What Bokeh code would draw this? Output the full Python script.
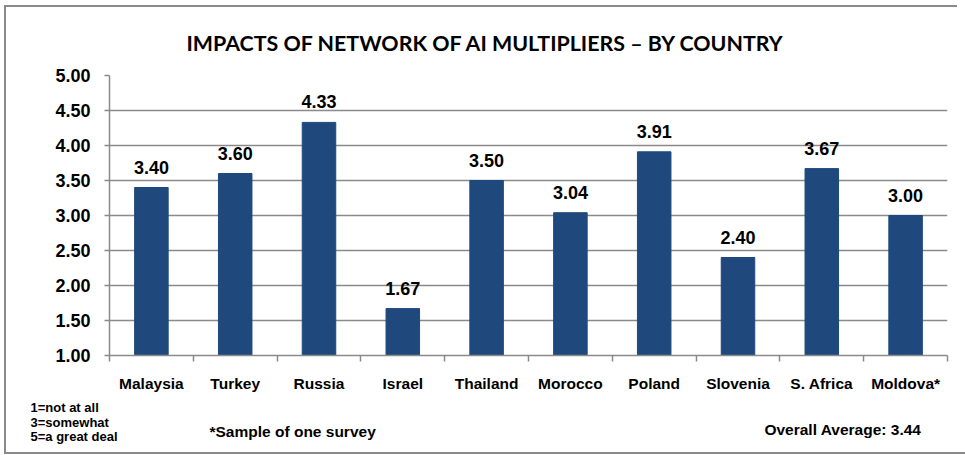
from bokeh.plotting import figure
from bokeh.layouts import column
from bokeh.models import (Range1d, FixedTicker, NumeralTickFormatter, CustomJSTickFormatter,
                          ColumnDataSource, LabelSet, Plot)
from bokeh.core.properties import value
from bokeh.embed import file_html
from bokeh.resources import INLINE

# ---- data ----
countries = ["Malaysia", "Turkey", "Russia", "Israel", "Thailand",
             "Morocco", "Poland", "Slovenia", "S. Africa", "Moldova*"]
scores = [3.40, 3.60, 4.33, 1.67, 3.50, 3.04, 3.91, 2.40, 3.67, 3.00]
y_ticks = [1.0, 1.5, 2.0, 2.5, 3.0, 3.5, 4.0, 4.5, 5.0]
title_text = "IMPACTS OF NETWORK OF AI MULTIPLIERS \u2013 BY COUNTRY"
scale_notes = ["1=not at all", "3=somewhat", "5=a great deal"]
sample_note = "*Sample of one survey"
average_note = "Overall Average: 3.44"

n = len(countries)
centers = [i + 0.5 for i in range(n)]
bounds = [float(i) for i in range(n + 1)]

BAR = "#1F497D"
GRAY = "#8a8a8a"
FONT = "Liberation Sans"

# layout (pixels)
W = 965
H1, H2 = 395, 60                      # chart figure, notes strip
FL, FR, FT, FB = 109, 947, 75, 355    # frame edges

g = f"linear-gradient({GRAY},{GRAY})"
HAS_ALIGN = "frame_align" in Plot.properties()

p = figure(width=W, height=H1, output_backend="svg", toolbar_location=None,
           x_range=Range1d(0, n), y_range=Range1d(y_ticks[0], y_ticks[-1]),
           min_border_left=FL, min_border_right=W - FR,
           min_border_top=FT, min_border_bottom=H1 - FB)
p.outline_line_color = None
p.background_fill_color = "white"
p.border_fill_color = None
p.styles = {"background": (f"{g} 4px 5px / 2px {H1 - 5}px no-repeat, "
                           f"{g} 4px 5px / 953px 2px no-repeat, white")}
if HAS_ALIGN:
    p.frame_align = False

src = ColumnDataSource(dict(x=centers, top=scores,
                            label=[f"{v:.2f}" for v in scores]))
p.vbar(x="x", top="top", bottom=y_ticks[0], width=0.4, source=src,
       fill_color=BAR, line_color=BAR)

p.add_layout(LabelSet(x="x", y="top", text="label", source=src, y_offset=14,
                      text_align="center", text_baseline="alphabetic",
                      text_font=value(FONT), text_font_style="bold", text_font_size="18px",
                      text_color="black"))

# title
p.title.text = title_text
p.title.align = "left"
p.title.offset = 186 - FL
p.title.standoff = 40
p.title.text_font = "Lato"
p.title.text_font_style = "bold"
p.title.text_font_size = "21.4px"
p.title.text_color = "black"

# y axis
yax = p.yaxis[0]
yax.ticker = FixedTicker(ticks=y_ticks)
yax.formatter = NumeralTickFormatter(format="0.00")
yax.major_tick_out = 5
yax.major_tick_in = 0
yax.minor_tick_out = 0
yax.minor_tick_in = 0
yax.major_tick_line_color = GRAY
yax.major_tick_line_width = 1.5
yax.axis_line_color = GRAY
yax.axis_line_width = 1.5
yax.major_label_standoff = 14
yax.major_label_text_font = FONT
yax.major_label_text_font_style = "bold"
yax.major_label_text_font_size = "18px"
yax.major_label_text_color = "black"

# x axis
xax = p.xaxis[0]
xax.ticker = FixedTicker(ticks=centers, minor_ticks=bounds)
xax.formatter = CustomJSTickFormatter(args=dict(names=countries),
                                      code="return names[Math.floor(tick)];")
xax.major_tick_out = 0
xax.major_tick_in = 0
xax.minor_tick_out = 6
xax.minor_tick_in = 0
xax.minor_tick_line_color = GRAY
xax.minor_tick_line_width = 1.5
xax.axis_line_color = GRAY
xax.axis_line_width = 1.5
xax.major_label_standoff = 13
xax.major_label_text_font = FONT
xax.major_label_text_font_style = "bold"
xax.major_label_text_font_size = "15.5px"
xax.major_label_text_color = "black"

p.xgrid.grid_line_color = None
p.ygrid.ticker = FixedTicker(ticks=y_ticks)
p.ygrid.grid_line_color = GRAY
p.ygrid.grid_line_width = 1.5

# ---- notes strip (pixel coordinates, y downwards) ----
q = figure(width=W, height=H2, output_backend="svg", toolbar_location=None,
           title_location=None,
           x_range=Range1d(0, W), y_range=Range1d(H2, 0),
           x_axis_type=None, y_axis_type=None,
           min_border_left=0, min_border_right=0, min_border_top=0, min_border_bottom=0)
q.outline_line_color = None
q.background_fill_color = None
q.border_fill_color = None
q.grid.visible = False
q.styles = {"background": (f"{g} 4px 0px / 2px {H2 - 1}px no-repeat, "
                           f"{g} 4px {H2 - 3}px / {W}px 2px no-repeat, white")}
if HAS_ALIGN:
    q.frame_align = False

top0 = H1  # page y where the strip starts
q.text(x=[30] * len(scale_notes), y=[407 + 14.5 * i - top0 for i in range(len(scale_notes))],
       text=scale_notes, text_align="left", text_baseline="alphabetic",
       text_font=value(FONT), text_font_style="bold", text_font_size="13px",
       text_color="black")
q.text(x=[209], y=[430.5 - top0], text=[sample_note], text_align="left",
       text_baseline="alphabetic", text_font=value(FONT), text_font_style="bold",
       text_font_size="15.5px", text_color="black")
q.text(x=[921], y=[429 - top0], text=[average_note], text_align="right",
       text_baseline="alphabetic", text_font=value(FONT), text_font_style="bold",
       text_font_size="15.5px", text_color="black")

layout = column(p, q, spacing=0)
open("out.html", "w").write(file_html(layout, INLINE))
